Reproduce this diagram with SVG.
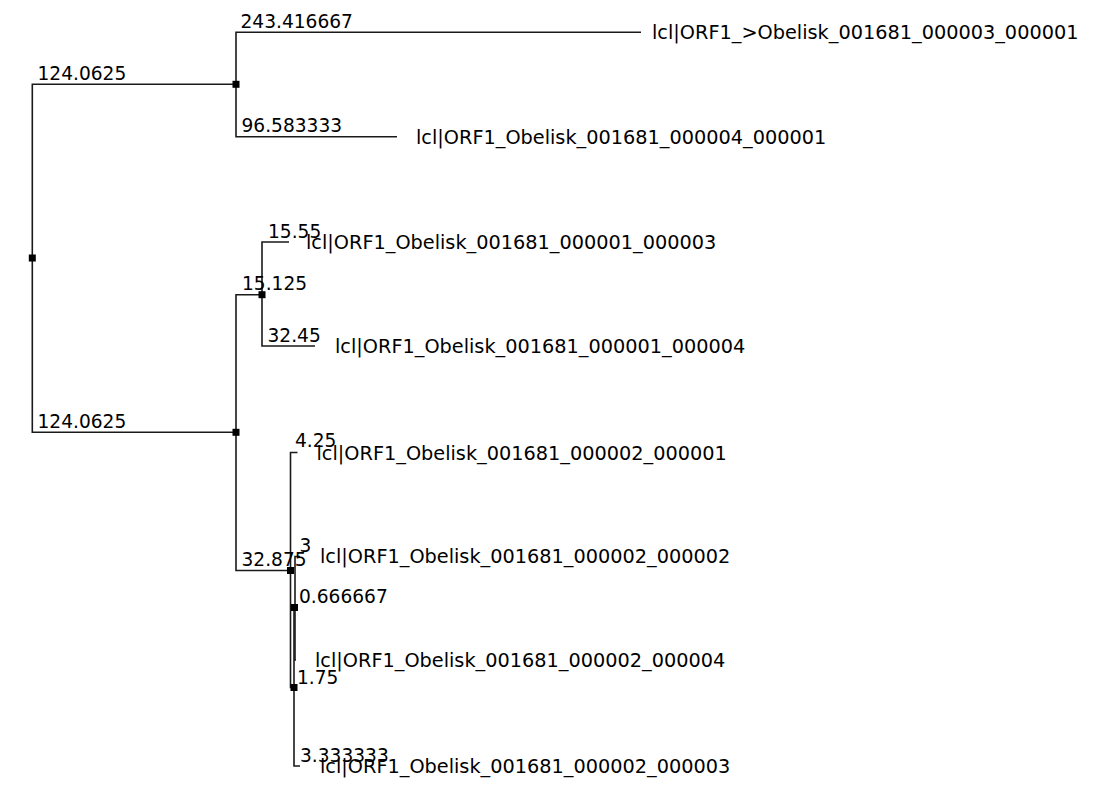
<svg xmlns="http://www.w3.org/2000/svg" width="1102" height="812" viewBox="0 0 1102 812">
<style>
.edge{fill:none;stroke:#1a1a1a;stroke-width:1.6}
.nd{fill:#000}
.bl{font-family:"DejaVu Sans",sans-serif;font-size:18.6px;fill:#000}
.lf{font-family:"DejaVu Sans",sans-serif;font-size:19.3px;fill:#000}
</style>
<rect width="1102" height="812" fill="#fff"/>
<g id="connectors">
<path class="edge" d="M32.3 258 V84.3 H236"/>
<path class="edge" d="M32.3 258 V432.3 H236"/>
<path class="edge" d="M236 84.3 V32.3 H641"/>
<path class="edge" d="M236 84.3 V136.7 H397"/>
<path class="edge" d="M236 432.3 V294.7 H262"/>
<path class="edge" d="M236 432.3 V570.5 H290.5"/>
<path class="edge" d="M262 294.7 V242 H289"/>
<path class="edge" d="M262 294.7 V346 H315"/>
<path class="edge" d="M290.5 570.5 V452.5 H297.5"/>
<path class="edge" d="M290.5 570.5 V687.5 H294"/>
<path class="edge" d="M294 687.5 V607.5 H295"/>
<path class="edge" d="M294 687.5 V766 H300"/>
<path class="edge" d="M295 607.5 V556.5 H300"/>
<path class="edge" d="M295 607.5 V660 H296"/>
</g>
<g id="branch-labels">
<text class="bl" x="37.5" y="79.5">124.0625</text>
<text class="bl" x="37.5" y="427.5">124.0625</text>
<text class="bl" x="240.5" y="27.5">243.416667</text>
<text class="bl" x="241.5" y="131.5">96.583333</text>
<text class="bl" x="242" y="289.5">15.125</text>
<text class="bl" x="241.5" y="566">32.875</text>
<text class="bl" x="268" y="237.5">15.55</text>
<text class="bl" x="267.5" y="341.5">32.45</text>
<text class="bl" x="295" y="447">4.25</text>
<text class="bl" x="299.5" y="551.5">3</text>
<text class="bl" x="299" y="602.5">0.666667</text>
<text class="bl" x="297" y="683.5">1.75</text>
<text class="bl" x="300" y="761.5">3.333333</text>
</g>
<g id="node-root"><rect class="nd" x="28.8" y="254.5" width="7" height="7"/></g>
<g id="node-A"><rect class="nd" x="232.5" y="80.8" width="7" height="7"/></g>
<g id="node-B"><rect class="nd" x="232.5" y="428.8" width="7" height="7"/></g>
<g id="node-C"><rect class="nd" x="258.5" y="291.2" width="7" height="7"/></g>
<g id="node-D"><rect class="nd" x="287" y="567" width="7" height="7"/></g>
<g id="node-E"><rect class="nd" x="291" y="604" width="7" height="7"/></g>
<g id="node-F"><rect class="nd" x="290.5" y="684" width="7" height="7"/></g>
<g id="leaf-000003_000001"><text class="lf" x="652" y="39">lcl|ORF1_&gt;Obelisk_001681_000003_000001</text></g>
<g id="leaf-000004_000001"><text class="lf" x="416" y="143.5">lcl|ORF1_Obelisk_001681_000004_000001</text></g>
<g id="leaf-000001_000003"><text class="lf" x="306" y="248.5">lcl|ORF1_Obelisk_001681_000001_000003</text></g>
<g id="leaf-000001_000004"><text class="lf" x="335" y="352.5">lcl|ORF1_Obelisk_001681_000001_000004</text></g>
<g id="leaf-000002_000001"><text class="lf" x="316.5" y="459.5">lcl|ORF1_Obelisk_001681_000002_000001</text></g>
<g id="leaf-000002_000002"><text class="lf" x="320" y="563">lcl|ORF1_Obelisk_001681_000002_000002</text></g>
<g id="leaf-000002_000004"><text class="lf" x="315" y="667">lcl|ORF1_Obelisk_001681_000002_000004</text></g>
<g id="leaf-000002_000003"><text class="lf" x="320" y="773">lcl|ORF1_Obelisk_001681_000002_000003</text></g>
</svg>
